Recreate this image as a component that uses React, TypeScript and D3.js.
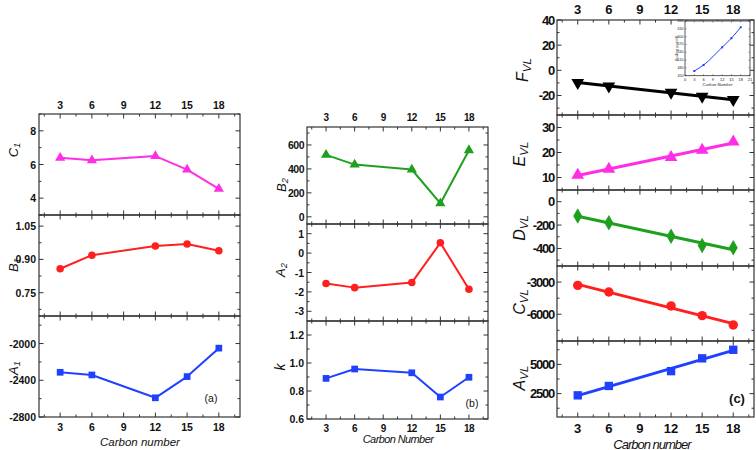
import React from "react";
import * as d3 from "d3";

const carbon = [3, 6, 12, 15, 18];
const xTicks = [3, 6, 9, 12, 15, 18];
const xMinor = [1.5, 4.5, 7.5, 10.5, 13.5, 16.5, 19.5];

// panel (a)
const c1 = [6.4, 6.25, 6.5, 5.7, 4.55];
const b1 = [0.858, 0.919, 0.96, 0.969, 0.939];
const a1 = [-2313, -2342, -2591, -2360, -2050];
// panel (b)
const b2 = [517, 436, 395, 112, 556];
const a2 = [-1.57, -1.78, -1.52, 0.53, -1.86];
const kVals = [0.89, 0.957, 0.93, 0.757, 0.898];
// panel (c)
const fVL = [-9.8, -12.5, -17.5, -20.8, -23.4];
const eVL = [11, 13.4, 18.1, 21, 24.3];
const dVL = [-122, -180, -296, -374, -394];
const cVL = [-3306, -3925, -5229, -6130, -7000];
const aVL = [2353, 3155, 4422, 5517, 6250];
// inset
const boiling = [468, 491, 559, 594, 636];
const insetXTicks = [0, 3, 6, 9, 12, 15, 18, 21];
const insetYTicks = [450, 480, 510, 540, 570, 600, 630, 660];

const FONT = "'Liberation Sans', Arial, sans-serif";
const FRAME = "#333";

type Marker = "tri" | "triDown" | "circle" | "square" | "diamond";

function symbolPath(m: Marker, size: number) {
  const t =
    m === "tri" || m === "triDown"
      ? d3.symbolTriangle
      : m === "circle"
      ? d3.symbolCircle
      : m === "square"
      ? d3.symbolSquare
      : d3.symbolDiamond;
  return d3.symbol().type(t).size(size)() as string;
}

function fitLine(xs: number[], ys: number[]) {
  const mx = d3.mean(xs)!;
  const my = d3.mean(ys)!;
  let num = 0, den = 0;
  xs.forEach((x, i) => {
    num += (x - mx) * (ys[i] - my);
    den += (x - mx) * (x - mx);
  });
  const s = num / den;
  return (x: number) => my + s * (x - mx);
}

interface SubProps {
  x: d3.ScaleLinear<number, number>;
  top: number;
  bottom: number;
  domain: [number, number];
  majors: number[];
  minors: number[];
  values: number[];
  color: string;
  marker: Marker;
  markerSize: number;
  lineWidth: number;
  fit?: boolean;
  tickFont: number;
  tickSpacing?: number;
  fmt?: (v: number) => string;
}

function Sub(p: SubProps) {
  const [x0, x1] = p.x.range();
  const y = d3.scaleLinear().domain(p.domain).range([p.bottom, p.top]);
  const maj = 4.5, min = 2.5;
  const line = d3
    .line<number>()
    .x((_, i) => p.x(carbon[i]))
    .y((v) => y(v));
  let pathD: string;
  if (p.fit) {
    const f = fitLine(carbon, p.values);
    pathD = d3.line<number>().x((c) => p.x(c)).y((c) => y(f(c)))([3, 18]) as string;
  } else {
    pathD = line(p.values) as string;
  }
  const fmt = p.fmt || ((v: number) => String(v));
  return (
    <g>
      <rect x={x0} y={p.top} width={x1 - x0} height={p.bottom - p.top} fill="none" stroke={FRAME} strokeWidth={1.2} />
      {xTicks.map((t) => (
        <g key={"xt" + t}>
          <line x1={p.x(t)} x2={p.x(t)} y1={p.top} y2={p.top + maj} stroke={FRAME} />
          <line x1={p.x(t)} x2={p.x(t)} y1={p.bottom} y2={p.bottom - maj} stroke={FRAME} />
        </g>
      ))}
      {xMinor.map((t) => (
        <g key={"xm" + t}>
          <line x1={p.x(t)} x2={p.x(t)} y1={p.top} y2={p.top + min} stroke={FRAME} />
          <line x1={p.x(t)} x2={p.x(t)} y1={p.bottom} y2={p.bottom - min} stroke={FRAME} />
        </g>
      ))}
      {p.majors.map((t) => (
        <g key={"yt" + t}>
          <line x1={x0} x2={x0 + maj} y1={y(t)} y2={y(t)} stroke={FRAME} />
          <line x1={x1} x2={x1 - maj} y1={y(t)} y2={y(t)} stroke={FRAME} />
          <text
            x={x0 - 3}
            y={y(t)}
            textAnchor="end"
            dominantBaseline="central"
            fontFamily={FONT}
            fontWeight="bold"
            fontSize={p.tickFont}
            letterSpacing={p.tickSpacing || 0}
            fill="#111"
          >
            {fmt(t)}
          </text>
        </g>
      ))}
      {p.minors.map((t) => (
        <g key={"ym" + t}>
          <line x1={x0} x2={x0 + min} y1={y(t)} y2={y(t)} stroke={FRAME} />
          <line x1={x1} x2={x1 - min} y1={y(t)} y2={y(t)} stroke={FRAME} />
        </g>
      ))}
      <path d={pathD} fill="none" stroke={p.color} strokeWidth={p.lineWidth} strokeLinejoin="round" />
      {p.values.map((v, i) => (
        <path
          key={"m" + i}
          d={symbolPath(p.marker, p.markerSize)}
          transform={`translate(${p.x(carbon[i])},${y(v)})${p.marker === "triDown" ? " rotate(180)" : ""}`}
          fill={p.color}
        />
      ))}
    </g>
  );
}

function YLabel({ x, y, main, sub, size }: { x: number; y: number; main: string; sub: string; size: number }) {
  return (
    <text
      transform={`translate(${x},${y}) rotate(-90)`}
      textAnchor="middle"
      dominantBaseline="central"
      fontFamily={FONT}
      fontStyle="italic"
      fontSize={size}
      fill="#111"
    >
      {main}
      {sub && (
        <tspan fontSize={size * 0.72} dy={size * 0.3}>
          {sub}
        </tspan>
      )}
    </text>
  );
}

function XLabels({ x, y, size, spacing }: { x: d3.ScaleLinear<number, number>; y: number; size: number; spacing?: number }) {
  return (
    <g>
      {xTicks.map((t) => (
        <text
          key={t}
          x={x(t)}
          y={y}
          textAnchor="middle"
          dominantBaseline="central"
          fontFamily={FONT}
          fontWeight="bold"
          fontSize={size}
          letterSpacing={spacing || 0}
          fill="#111"
        >
          {t}
        </text>
      ))}
    </g>
  );
}

function Title({ x, y, text, size, spacing }: { x: number; y: number; text: string; size: number; spacing?: number }) {
  return (
    <text x={x} y={y} textAnchor="middle" dominantBaseline="central" fontFamily={FONT} fontStyle="italic" fontSize={size} letterSpacing={spacing || 0} fill="#111">
      {text}
    </text>
  );
}

function Inset() {
  const l = 685, r = 750, t = 21, b = 75.7;
  const x = d3.scaleLinear().domain([0, 21]).range([l, r]);
  const y = d3.scaleLinear().domain([450, 660]).range([b, t]);
  const line = d3
    .line<number>()
    .x((_, i) => x(carbon[i]))
    .y((v) => y(v))
    .curve(d3.curveMonotoneX);
  return (
    <g>
      <rect x={l} y={t} width={r - l} height={b - t} fill="#fff" stroke={FRAME} strokeWidth={0.8} />
      {insetXTicks.map((v) => (
        <g key={"ix" + v}>
          <line x1={x(v)} x2={x(v)} y1={b} y2={b - 1.5} stroke={FRAME} strokeWidth={0.5} />
          <line x1={x(v)} x2={x(v)} y1={t} y2={t + 1.5} stroke={FRAME} strokeWidth={0.5} />
          <text x={x(v)} y={b + 3.5} textAnchor="middle" dominantBaseline="central" fontFamily={FONT} fontSize={4} fill="#222">
            {v}
          </text>
        </g>
      ))}
      {insetYTicks.map((v) => (
        <g key={"iy" + v}>
          <line x1={l} x2={l + 1.5} y1={y(v)} y2={y(v)} stroke={FRAME} strokeWidth={0.5} />
          <line x1={r} x2={r - 1.5} y1={y(v)} y2={y(v)} stroke={FRAME} strokeWidth={0.5} />
          <text x={l - 1.5} y={y(v)} textAnchor="end" dominantBaseline="central" fontFamily={FONT} fontSize={3.6} fill="#222">
            {v}
          </text>
        </g>
      ))}
      <path d={line(boiling) as string} fill="none" stroke="#1f3fff" strokeWidth={1} />
      {boiling.map((v, i) => (
        <rect key={i} x={x(carbon[i]) - 1} y={y(v) - 1} width={2} height={2} fill="#1f3fff" />
      ))}
      <text transform={`translate(${l - 9},${(t + b) / 2}) rotate(-90)`} textAnchor="middle" dominantBaseline="central" fontFamily={FONT} fontStyle="italic" fontSize={4} fill="#222">
        Boiling point/K
      </text>
      <text x={(l + r) / 2} y={b + 9} textAnchor="middle" dominantBaseline="central" fontFamily={FONT} fontStyle="italic" fontSize={4.2} fill="#222">
        Carbon Number
      </text>
    </g>
  );
}

const MAGENTA = "#ff2ee6";
const RED = "#ff1f1f";
const BLUE = "#2040ff";
const GREEN = "#1ea01e";

export default function App() {
  const xa = d3.scaleLinear().domain([1, 20]).range([39, 240]);
  const xb = d3.scaleLinear().domain([1, 20]).range([307, 488]);
  const xc = d3.scaleLinear().domain([1, 20]).range([557, 754]);
  const common = { tickFont: 10.5 };
  const cc = { tickFont: 13, tickSpacing: -1.2, lineWidth: 3, markerSize: 70, fit: true };
  return (
    <svg width={756} height={450} style={{ position: "absolute", left: 0, top: 0, background: "#fff" }}>
      {/* panel (a) */}
      <XLabels x={xa} y={105} size={10.5} />
      <Sub x={xa} top={114} bottom={215} domain={[3, 9]} majors={[4, 6, 8]} minors={[3, 5, 7, 9]} values={c1} color={MAGENTA} marker="tri" markerSize={45} lineWidth={2} {...common} />
      <Sub x={xa} top={215} bottom={316} domain={[0.645, 1.1]} majors={[0.75, 0.9, 1.05]} minors={[0.675, 0.825, 0.975]} values={b1} color={RED} marker="circle" markerSize={45} lineWidth={2} fmt={(v) => v.toFixed(2)} {...common} />
      <Sub x={xa} top={316} bottom={417} domain={[-2800, -1700]} majors={[-2800, -2400, -2000]} minors={[-2600, -2200, -1800]} values={a1} color={BLUE} marker="square" markerSize={45} lineWidth={2} {...common} />
      <YLabel x={13} y={150} main="C" sub="1" size={13} />
      <YLabel x={13} y={265} main="B" sub="1" size={13} />
      <YLabel x={13} y={368} main="A" sub="1" size={13} />
      <XLabels x={xa} y={427} size={10.5} />
      <Title x={140} y={442} text="Carbon number" size={11.5} />
      <text x={211} y={398} textAnchor="middle" dominantBaseline="central" fontFamily={FONT} fontSize={10.5} fill="#111">(a)</text>

      {/* panel (b) */}
      <XLabels x={xb} y={117} size={10} spacing={-0.5} />
      <Sub x={xb} top={127} bottom={224} domain={[-60, 750]} majors={[0, 200, 400, 600]} minors={[100, 300, 500, 700]} values={b2} color={GREEN} marker="tri" markerSize={45} lineWidth={2} tickSpacing={-0.5} {...common} />
      <Sub x={xb} top={224} bottom={321} domain={[-3.5, 1.5]} majors={[-3, -2, -1, 0, 1]} minors={[-2.5, -1.5, -0.5, 0.5]} values={a2} color={RED} marker="circle" markerSize={45} lineWidth={2} {...common} />
      <Sub x={xb} top={321} bottom={419} domain={[0.6, 1.3]} majors={[0.6, 0.8, 1.0, 1.2]} minors={[0.7, 0.9, 1.1]} values={kVals} color={BLUE} marker="square" markerSize={45} lineWidth={2} fmt={(v) => v.toFixed(1)} {...common} />
      <YLabel x={281} y={185} main="B" sub="2" size={13} />
      <YLabel x={280} y={270} main="A" sub="2" size={13} />
      <YLabel x={280} y={367} main="k" sub="" size={14} />
      <XLabels x={xb} y={428} size={10} spacing={-0.5} />
      <Title x={398} y={439} text="Carbon Number" size={11} spacing={-0.6} />
      <text x={472} y={403} textAnchor="middle" dominantBaseline="central" fontFamily={FONT} fontSize={10.5} fill="#111">(b)</text>

      {/* panel (c) */}
      <XLabels x={xc} y={9} size={13} />
      <Sub x={xc} top={20} bottom={115} domain={[-35.5, 40]} majors={[-20, 0, 20, 40]} minors={[-30, -10, 10, 30]} values={fVL} color="#000" marker="triDown" {...cc} />
      <Sub x={xc} top={115} bottom={190} domain={[5, 35]} majors={[10, 20, 30]} minors={[15, 25]} values={eVL} color={MAGENTA} marker="tri" {...cc} />
      <Sub x={xc} top={190} bottom={266} domain={[-550, 100]} majors={[-400, -200, 0]} minors={[-500, -300, -100]} values={dVL} color={GREEN} marker="diamond" {...cc} />
      <Sub x={xc} top={266} bottom={341} domain={[-8500, -1500]} majors={[-6000, -3000]} minors={[-7500, -4500]} values={cVL} color={RED} marker="circle" {...cc} />
      <Sub x={xc} top={341} bottom={417} domain={[500, 7000]} majors={[2500, 5000]} minors={[1250, 3750, 6250]} values={aVL} color={BLUE} marker="square" {...cc} />
      <Inset />
      <YLabel x={522} y={70} main="F" sub="VL" size={16} />
      <YLabel x={519} y={154} main="E" sub="VL" size={16} />
      <YLabel x={519} y={228} main="D" sub="VL" size={16} />
      <YLabel x={519} y={302} main="C" sub="VL" size={16} />
      <YLabel x={519} y={378} main="A" sub="VL" size={16} />
      <XLabels x={xc} y={428} size={13} />
      <Title x={652} y={444} text="Carbon number" size={13} spacing={-1} />
      <text x={737} y={398} textAnchor="middle" dominantBaseline="central" fontFamily={FONT} fontWeight="bold" fontSize={13} fill="#111">(c)</text>
    </svg>
  );
}
